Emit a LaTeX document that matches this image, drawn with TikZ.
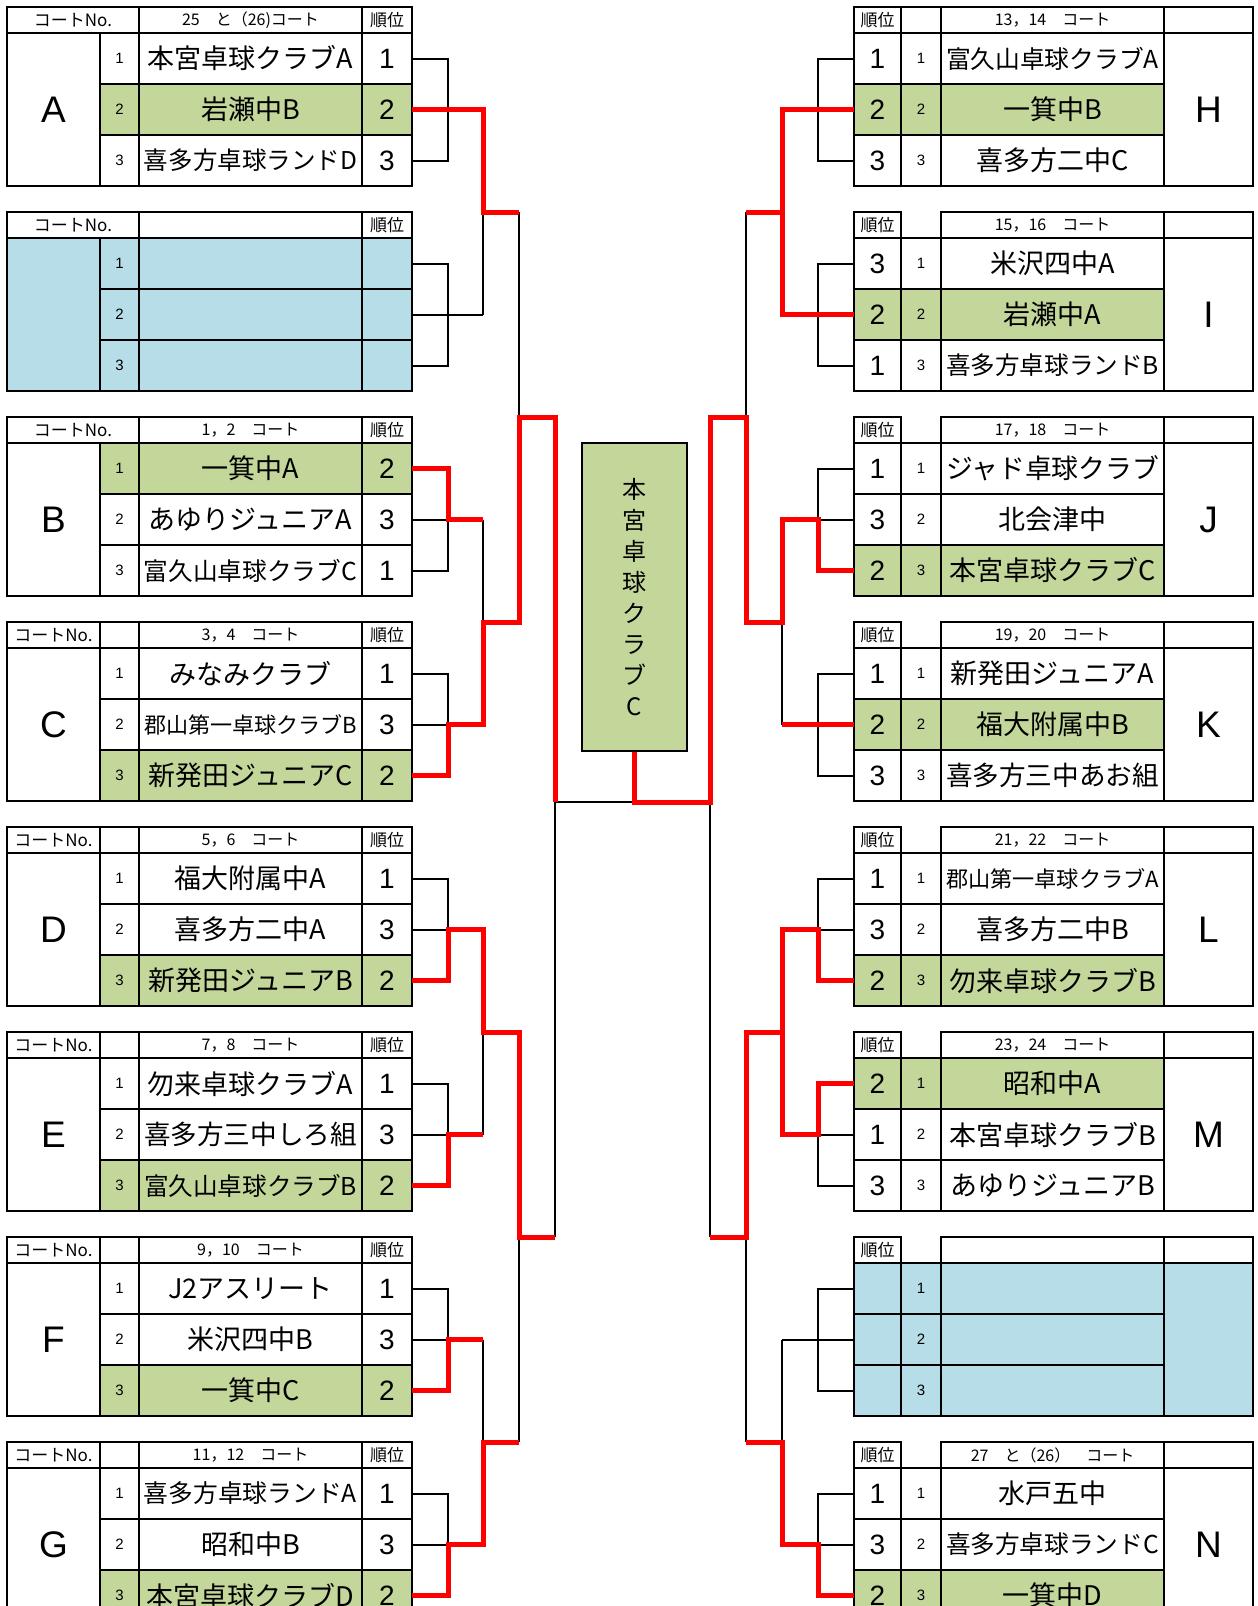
\documentclass[tikz,border=0pt]{standalone}
\usepackage{fontspec}
\setmainfont{Noto Sans CJK JP}
\newfontfamily\latinfont{Liberation Sans}
\usepackage{graphicx}
\usetikzlibrary{calc}

\definecolor{wingreen}{HTML}{C4D79B}
\definecolor{emptyblue}{HTML}{B7DEE8}

\newsavebox\namebox
\newcommand\fitname[1]{\sbox\namebox{#1}%
  \ifdim\wd\namebox>213pt\resizebox{213pt}{!}{\usebox\namebox}\else\usebox\namebox\fi}

\begin{document}
\begin{tikzpicture}[
      x=1pt, y=-1pt,
      cell/.style={draw,line width=2.2pt,inner sep=0pt,outer sep=0pt,anchor=north west,minimum height=51pt},
      head/.style={cell,minimum height=26pt,font=\fontsize{17}{17}\selectfont},
      court/.style={head,minimum width=223pt,font=\fontsize{16}{16}\selectfont},
      team/.style={cell,minimum width=223pt,font=\fontsize{27}{27}\selectfont},
      rank/.style={cell,font=\latinfont\fontsize{28}{28}\selectfont},
      num/.style={cell,font=\latinfont\fontsize{15}{15}\selectfont},
      letter/.style={cell,minimum height=153pt,font=\latinfont\fontsize{37}{37}\selectfont},
      bline/.style={line width=2pt},
      rline/.style={red,line width=5pt},
      ]
    \useasboundingbox (0,0) rectangle (1258,1606);
    \clip (0,0) rectangle (1258,1606);

    % Left groups
    \foreach \grp/\lab/\crt/\hsp/\bfill/\na/\ra/\nb/\rb/\nc/\rc/\win [count=\kk from 0] in {
      A/A/{25　と（26)コート}/1/white/本宮卓球クラブA/1/岩瀬中B/2/喜多方卓球ランドD/3/2,
      X/{}/{}/1/emptyblue/{}/{}/{}/{}/{}/{}/0,
      B/B/{1，2　コート}/1/white/一箕中A/2/あゆりジュニアA/3/富久山卓球クラブC/1/1,
      C/C/{3，4　コート}/0/white/みなみクラブ/1/郡山第一卓球クラブB/3/新発田ジュニアC/2/3,
      D/D/{5，6　コート}/0/white/福大附属中A/1/喜多方二中A/3/新発田ジュニアB/2/3,
      E/E/{7，8　コート}/0/white/勿来卓球クラブA/1/喜多方三中しろ組/3/富久山卓球クラブB/2/3,
      F/F/{9，10　コート}/0/white/J2アスリート/1/米沢四中B/3/一箕中C/2/3,
      G/G/{11，12　コート}/0/white/喜多方卓球ランドA/1/昭和中B/3/本宮卓球クラブD/2/3}{
      \pgfmathtruncatemacro\yt{7+205*\kk}
      \pgfmathtruncatemacro\yb{\yt+26}
      \ifnum\hsp=1
        \node[head,minimum width=132pt] (h\grp) at (7,\yt) {コートNo.};
      \else
        \node[head,minimum width=93pt] (h\grp) at (7,\yt) {コートNo.};
        \node[head,minimum width=39pt] (e\grp) at (100,\yt) {};
      \fi
      \node[court] (c\grp) at (139,\yt) {\crt};
      \node[head,minimum width=50pt] (j\grp) at (362,\yt) {順位};
      \node[letter,minimum width=93pt,fill=\bfill] (g\grp) at (7,\yb) {\lab};
      \foreach \i/\tm/\rk in {1/\na/\ra,2/\nb/\rb,3/\nc/\rc}{
        \pgfmathtruncatemacro\yr{\yb+51*(\i-1)}
        \ifnum\i=\win\def\rowfill{wingreen}\else\edef\rowfill{\bfill}\fi
        \node[num,minimum width=39pt,fill=\rowfill] (n\grp\i) at (100,\yr) {\i};
        \node[team,fill=\rowfill] (t\grp\i) at (139,\yr) {\fitname{\tm}};
        \node[rank,minimum width=50pt,fill=\rowfill] (r\grp\i) at (362,\yr) {\rk};
      }
    }

    % Right groups
    \foreach \grp/\lab/\crt/\hsp/\bfill/\na/\ra/\nb/\rb/\nc/\rc/\win [count=\kk from 0] in {
      H/H/{13，14　コート}/1/white/富久山卓球クラブA/1/一箕中B/2/喜多方二中C/3/2,
      I/I/{15，16　コート}/0/white/米沢四中A/3/岩瀬中A/2/喜多方卓球ランドB/1/2,
      J/J/{17，18　コート}/0/white/ジャド卓球クラブ/1/北会津中/3/本宮卓球クラブC/2/3,
      K/K/{19，20　コート}/0/white/新発田ジュニアA/1/福大附属中B/2/喜多方三中あお組/3/2,
      L/L/{21，22　コート}/0/white/郡山第一卓球クラブA/1/喜多方二中B/3/勿来卓球クラブB/2/3,
      M/M/{23，24　コート}/0/white/昭和中A/2/本宮卓球クラブB/1/あゆりジュニアB/3/1,
      Y/{}/{}/0/emptyblue/{}/{}/{}/{}/{}/{}/0,
      N/N/{27　と（26）　コート}/0/white/水戸五中/1/喜多方卓球ランドC/3/一箕中D/2/3}{
      \pgfmathtruncatemacro\yt{7+205*\kk}
      \pgfmathtruncatemacro\yb{\yt+26}
      \node[head,minimum width=47pt] (j\grp) at (854,\yt) {順位};
      \ifnum\hsp=1 \node[head,minimum width=40pt] (e\grp) at (901,\yt) {}; \fi
      \node[court] (c\grp) at (941,\yt) {\crt};
      \node[head,minimum width=89pt] (h\grp) at (1164,\yt) {};
      \node[letter,minimum width=89pt,fill=\bfill] (g\grp) at (1164,\yb) {\lab};
      \foreach \i/\tm/\rk in {1/\na/\ra,2/\nb/\rb,3/\nc/\rc}{
        \pgfmathtruncatemacro\yr{\yb+51*(\i-1)}
        \ifnum\i=\win\def\rowfill{wingreen}\else\edef\rowfill{\bfill}\fi
        \node[rank,minimum width=47pt,fill=\rowfill] (r\grp\i) at (854,\yr) {\rk};
        \node[num,minimum width=40pt,fill=\rowfill] (n\grp\i) at (901,\yr) {\i};
        \node[team,fill=\rowfill] (t\grp\i) at (941,\yr) {\fitname{\tm}};
      }
    }

    % Winner box
    \node[draw,line width=2.2pt,fill=wingreen,anchor=north west,minimum width=105pt,minimum height=308pt,
          inner sep=0pt,align=center,font=\fontsize{24}{31}\selectfont] (champ) at (581,442)
          {本\\宮\\卓\\球\\ク\\ラ\\ブ\\C};
    \coordinate (final) at ($(champ.south)+(0,50)$);

    % First round brackets
    \foreach \grp in {A,X,B,C,D,E,F,G}{
      \draw[bline] (r\grp1.east) -- ++(36,0) |- (r\grp3.east);
      \draw[bline] (r\grp2.east) -- ++(71,0) coordinate (o\grp);
    }
    \foreach \grp in {H,I,J,K,L,M,Y,N}{
      \draw[bline] (r\grp1.west) -- ++(-36,0) |- (r\grp3.west);
      \draw[bline] (r\grp2.west) -- ++(-72,0) coordinate (o\grp);
    }
    % Second round
    \foreach \one/\two/\pr in {A/X/AX,B/C/BC,D/E/DE,F/G/FG}{
      \draw[bline] (o\one) -- (o\two);
      \draw[bline] ($(o\one)!.5!(o\two)$) coordinate (m\pr) -- ++(36,0) coordinate (p\pr);
    }
    \foreach \one/\two/\pr in {H/I/HI,J/K/JK,L/M/LM,Y/N/YN}{
      \draw[bline] (o\one) -- (o\two);
      \draw[bline] ($(o\one)!.5!(o\two)$) coordinate (m\pr) -- ++(-36,0) coordinate (p\pr);
    }
    % Semi-finals and final
    \draw[bline] (pAX) -- (pBC);
    \draw[bline] ($(pAX)!.5!(pBC)$) coordinate (mAC) -- ++(36,0) coordinate (qLt);
    \draw[bline] (pDE) -- (pFG);
    \draw[bline] ($(pDE)!.5!(pFG)$) coordinate (mDG) -- ++(36,0) coordinate (qLb);
    \draw[bline] (pHI) -- (pJK);
    \draw[bline] ($(pHI)!.5!(pJK)$) coordinate (mHK) -- ++(-36,0) coordinate (qRt);
    \draw[bline] (pLM) -- (pYN);
    \draw[bline] ($(pLM)!.5!(pYN)$) coordinate (mLN) -- ++(-36,0) coordinate (qRb);
    \draw[bline] (qLt) -- (qLb);
    \draw[bline] (qRt) -- (qRb);
    \draw[bline] (qLt |- final) coordinate (fL) -- (final);
    \coordinate (fR) at (qRt |- final);

    % Winners
    \draw[rline] (rA2.east) -- (oA) -- (mAX) -- (pAX);
    \draw[rline] (rB1.east) -- ++(36,0) |- (oB);
    \draw[rline] (rC3.east) -- ++(36,0) |- (oC) -- (mBC) -- (pBC) -- (mAC) -- (qLt) -- (fL);
    \draw[rline] (rD3.east) -- ++(36,0) |- (oD) -- (mDE) -- (pDE) -- (mDG) -- (qLb);
    \draw[rline] (rE3.east) -- ++(36,0) |- (oE);
    \draw[rline] (rF3.east) -- ++(36,0) |- (oF);
    \draw[rline] (rG3.east) -- ++(36,0) |- (oG) -- (mFG) -- (pFG);
    \draw[rline] (rH2.west) -- (oH) -- (mHI) -- (pHI);
    \draw[rline] (rI2.west) -- (oI) -- (mHI);
    \draw[rline] (rJ3.west) -- ++(-36,0) |- (oJ) -- (mJK) -- (pJK) -- (mHK) -- (qRt) -- (fR) -- (final) -- (champ.south);
    \draw[rline] (rK2.west) -- (oK);
    \draw[rline] (rL3.west) -- ++(-36,0) |- (oL) -- (mLM) -- (pLM) -- (mLN) -- (qRb);
    \draw[rline] (rM1.west) -- ++(-36,0) |- (oM) -- (mLM);
    \draw[rline] (rN3.west) -- ++(-36,0) |- (oN) -- (mYN) -- (pYN);

  \end{tikzpicture}
\end{document}
